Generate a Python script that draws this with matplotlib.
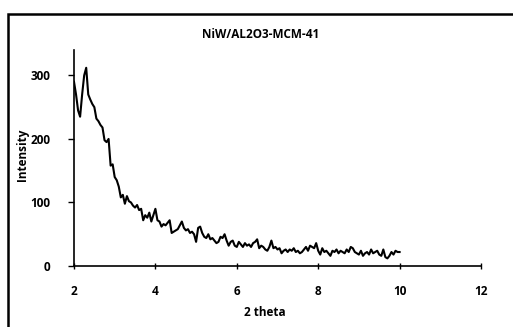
import numpy as np
import matplotlib
matplotlib.use("Agg")
import matplotlib.pyplot as plt
from matplotlib.patches import Rectangle

plt.rcParams['font.family'] = ['Open Sans', 'DejaVu Sans']

title = "NiW/AL2O3-MCM-41"
x_label = "2 theta"
y_label = "Intensity"

x_start = 2.0
x_step = 0.05
intensity = [
  290, 270, 245, 235, 270, 300, 312, 270, 262, 255,
  250, 232, 228, 222, 218, 198, 195, 200, 158, 160,
  140, 135, 125, 108, 112, 98, 110, 102, 100, 95,
  92, 96, 88, 90, 72, 80, 76, 84, 70, 80,
  90, 72, 70, 62, 66, 64, 68, 72, 52, 54,
  56, 58, 64, 70, 60, 56, 58, 52, 54, 50,
  38, 60, 62, 52, 46, 44, 50, 42, 44, 40,
  36, 38, 46, 44, 50, 40, 32, 38, 40, 32,
  30, 38, 34, 30, 36, 32, 34, 30, 36, 38,
  42, 28, 32, 30, 26, 24, 30, 40, 28, 30,
  26, 28, 20, 24, 26, 22, 26, 24, 28, 22,
  24, 20, 22, 26, 30, 24, 32, 30, 28, 36,
  24, 18, 28, 22, 24, 20, 16, 24, 22, 26,
  20, 24, 22, 20, 26, 22, 30, 28, 22, 20,
  18, 24, 16, 20, 22, 18, 26, 20, 22, 24,
  18, 16, 26, 14, 12, 16, 22, 18, 24, 22,
  22,
]
two_theta = x_start + x_step * np.arange(len(intensity))

x_ticks = [2, 4, 6, 8, 10, 12]
y_ticks = [0, 100, 200, 300]

W, H = 513, 327
fig = plt.figure(figsize=(W / 100, H / 100), dpi=100)
ax = fig.add_axes([74 / W, 1 - 266 / H, (481 - 74) / W, (266 - 50) / H])

ax.plot(two_theta, intensity, color="black", lw=1.5)

ax.set_xlim(2, 12)
ax.set_ylim(0, 340)
ax.set_xticks(x_ticks)
ax.set_yticks(y_ticks)
ax.spines["top"].set_visible(False)
ax.spines["right"].set_visible(False)
for s in ("left", "bottom"):
  ax.spines[s].set_linewidth(1.2)
ax.tick_params(axis="x", direction="inout", length=5, width=1, pad=11, labelsize=8.5)
ax.tick_params(axis="y", direction="out", length=4, width=1, pad=13, labelsize=8.5)
for lab in ax.get_xticklabels() + ax.get_yticklabels():
  lab.set_fontweight("bold")

fig.text(261 / W, 1 - 35 / H, title, ha="center", va="center", fontsize=8.5, fontweight="bold")
fig.text(265 / W, 1 - 313 / H, x_label, ha="center", va="center", fontsize=8.5, fontweight="bold")
fig.text(23 / W, 1 - 155 / H, y_label, ha="center", va="center", rotation=90, fontsize=8.5, fontweight="bold")

# outer chart frame, cut off at right and bottom like the source image
fig.patches.append(Rectangle((8 / W, -0.05), 1.1, 1 - 14 / H + 0.05, transform=fig.transFigure,
                             fill=False, edgecolor="black", lw=1.8))

fig.savefig("out.png", dpi=100)
